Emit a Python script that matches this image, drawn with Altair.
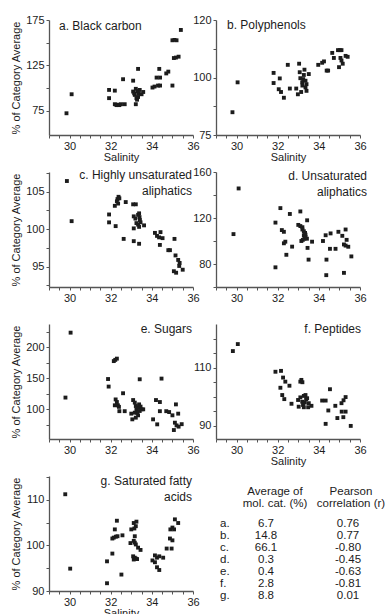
import altair as alt
import pandas as pd

FONT = "Liberation Sans"
INK = "#1c1c1c"
AXIS_GREY = "#555555"

# ---- panel data: salinity vs. % of category average ----
a_sal = [29.85, 30.1, 31.92, 31.92, 32.2, 32.2, 32.28, 32.35, 32.42, 32.5, 32.68, 32.6,
         33.09, 33.33, 33.09, 33.17, 33.22, 33.25, 33.28, 33.33, 33.36, 33.41, 33.5, 33.58,
         33.22, 33.14, 33.3, 34.03, 34.13, 34.3, 34.4, 34.23, 34.4, 34.36, 34.7, 34.8,
         35.0, 35.0, 35.1, 35.2, 35.07, 35.17, 35.3, 35.41]
a_val = [72, 93, 97.8, 88.7, 97, 82, 81, 81.5, 81, 82, 82, 109.6,
         108, 121, 96, 92.3, 99, 88.7, 87, 90, 94.2, 97.8, 93, 95.5,
         82, 94, 96.5, 100.4, 101.5, 102.6, 102.6, 111.4, 111.4, 121, 116, 118,
         102.6, 152.6, 153, 152.6, 133, 133.5, 134.5, 164]

b_sal = [29.8, 30.05, 31.8, 31.8, 32.1, 32.05, 32.16, 32.3, 32.49, 32.59, 32.9, 32.98,
         33.04, 33.07, 33.1, 33.14, 33.19, 33.24, 33.27, 33.3, 33.35, 33.35, 33.4, 33.4,
         33.51, 33.2, 33.97, 34.16, 34.25, 34.38, 34.45, 34.65, 34.73, 34.93, 35.02, 35.1,
         34.98, 35.05, 35.1, 35.16, 35.3, 35.4]
b_val = [84.9, 97.9, 102, 97.6, 99.6, 94.9, 93.7, 91.2, 105.5, 95.2, 95.2, 92.7,
         106, 102.3, 99.7, 93.7, 97.9, 99.3, 101.1, 103.4, 98.6, 95.7, 97.1, 94.2,
         101.5, 96.5, 105.5, 106.4, 107, 103, 103, 110.7, 108.5, 111.9, 111.9, 111.9,
         104.5, 108.5, 107.4, 106, 109.4, 109]

c_sal = [29.87, 30.1, 31.92, 31.92, 32.24, 32.2, 32.3, 32.33, 32.38, 32.42, 32.36, 32.63,
         32.73, 33.09, 33.22, 33.12, 33.2, 33.25, 33.33, 33.38, 33.4, 33.42, 33.33, 33.45,
         33.38, 33.62, 33.12, 33.12, 33.38, 34.15, 34.25, 34.35, 34.42, 34.52, 34.39, 34.8,
         34.88, 35.1, 35.15, 35.28, 35.35, 35.33, 35.07, 35.18, 35.5]
c_val = [106.4, 101.06, 101.95, 100.9, 100.4, 103.1, 103.7, 104.0, 104.3, 104.1, 103.4, 98.7,
         103.6, 103.3, 103.3, 101.7, 101.4, 100.8, 101.9, 102.1, 101.6, 101.2, 100.6, 100.9,
         100.3, 100.5, 100.1, 98.4, 98.05, 99.5, 99.1, 98.9, 99.6, 98.8, 97.9, 97.2,
         97.2, 98.7, 96.5, 95.9, 95.5, 95.1, 94.4, 94.2, 94.6]

d_sal = [29.85, 30.1, 31.89, 31.89, 32.13, 32.2, 32.3, 32.3, 32.37, 32.42, 32.59, 32.7,
         33.1, 33.0, 33.1, 33.2, 33.2, 33.27, 33.33, 33.27, 33.35, 33.15, 33.22, 33.3,
         33.35, 33.42, 33.43, 33.45, 33.5, 33.67, 34.2, 34.37, 34.33, 34.57, 34.36, 34.54,
         34.81, 34.95, 35.14, 35.22, 35.3, 35.43, 35.3, 35.22, 35.35, 35.58]
d_val = [106, 145.7, 116, 77.1, 128.6, 109.5, 108, 98, 99.4, 88, 123.5, 95.1,
         125.7, 114, 113, 112, 110, 108.5, 107, 105, 105.5, 100, 101, 102,
         103.5, 102, 118, 94, 83.8, 99.4, 100, 83.8, 105, 106.6, 70.3, 93.2,
         93.2, 108, 104.5, 97, 96, 95, 110, 72.3, 101, 86.6]

e_sal = [29.8, 30.05, 31.87, 31.9, 32.15, 32.22, 32.3, 32.24, 32.2, 32.35, 32.3, 32.4,
         32.42, 32.6, 32.68, 33.0, 33.05, 33.09, 33.17, 33.22, 33.25, 33.33, 33.38, 33.41,
         33.45, 33.5, 33.33, 33.22, 33.58, 33.28, 33.17, 33.41, 34.06, 34.26, 34.2, 34.39,
         34.39, 34.47, 34.7, 34.84, 35.0, 35.07, 35.17, 35.28, 35.12, 35.2, 35.3, 35.45]
e_val = [119, 224, 149, 136.8, 178, 180, 182, 116, 106.5, 106.5, 111.8, 104,
         97, 126, 97, 93, 83.8, 115, 110.8, 105.4, 100, 102.7, 108, 97.3,
         104.4, 100, 90.3, 86.5, 100, 94.6, 94.6, 148.6, 83.8, 75.7, 115, 111.8,
         97, 149.7, 97, 95.6, 90.3, 66.5, 108, 93, 78.4, 74, 72, 76]

f_sal = [29.82, 30.06, 31.89, 32.16, 32.13, 32.26, 32.37, 32.22, 32.32, 32.57, 32.67, 33.1,
         33.15, 33.2, 32.99, 33.1, 33.19, 33.23, 33.27, 33.35, 33.38, 33.43, 33.32, 33.48,
         33.27, 33.51, 33.64, 33.02, 34.16, 34.33, 34.33, 34.46, 34.54, 34.8, 34.9, 35.11,
         35.1, 35.2, 35.3, 35.19, 35.3, 35.55]
f_val = [115.7, 118.1, 108.6, 108.9, 103.1, 106.6, 105.2, 100.6, 99.2, 103.8, 97.6, 105.2,
         105.8, 105, 98.9, 99.8, 98.3, 97.2, 100.3, 100.6, 99.2, 99.5, 98, 96.4,
         96.4, 97.8, 96.9, 96.6, 98.7, 98.7, 90.7, 95.3, 102.6, 96.9, 92.7, 94.9,
         97.8, 98.8, 99.9, 93, 94.9, 90]

g_sal = [29.79, 30.03, 31.82, 31.82, 32.08, 32.08, 32.15, 32.25, 32.33, 32.2, 32.3, 32.57,
         32.52, 33.0, 32.96, 33.12, 33.25, 33.22, 33.15, 33.12, 33.17, 33.22, 33.17, 33.33,
         33.45, 33.09, 33.17, 33.22, 33.12, 33.28, 34.15, 34.25, 34.36, 34.03, 34.15, 34.25,
         34.36, 34.55, 34.72, 34.96, 34.88, 35.0, 34.9, 35.0, 35.08, 35.12, 35.28]
g_val = [111.2, 94.9, 96.5, 91.7, 98.2, 101.5, 101.7, 101.9, 102, 103.5, 105.4, 102.2,
         93.6, 103.5, 100.5, 104.9, 105.2, 104.2, 103.7, 101, 100.6, 100.2, 102, 99.5,
         99, 97.6, 97.3, 97.1, 96.9, 97.0, 97.8, 97.3, 97.6, 96.7, 96.3, 95.2,
         94.6, 97.3, 99.3, 99.3, 101.5, 101.1, 103.5, 103.9, 103.5, 105.7, 104.9]

# ---- summary table ----
table_letters = ["a.", "b.", "c.", "d.", "e.", "f.", "g."]
table_avg_pct = [6.7, 14.8, 66.1, 0.3, 0.4, 2.8, 8.8]
table_pearson_r = [0.76, 0.77, -0.80, -0.45, -0.63, -0.81, 0.01]

W, H = 144, 115
X_TICKS = [29 + 0.5 * i for i in range(15)]
Y_TITLE = "% of Category Average"
TABLE_FS = 11.5


def label_expr(labels):
    expr = "''"
    for v, t in labels.items():
        expr = f"datum.value == {v} ? '{t}' : ({expr})"
    return expr


def panel(sal, val, ydom, yticks, ylabels, text, align, tx, ty, ytitle, xtitle, xtp=0):
    df = pd.DataFrame({"salinity": sal, "value": val})
    pts = alt.Chart(df).mark_square(size=15, color=INK, opacity=1).encode(
        x=alt.X("salinity:Q", title=xtitle,
                scale=alt.Scale(domain=[29, 36], nice=False, zero=False),
                axis=alt.Axis(values=X_TICKS,
                              labelExpr=label_expr({30: "30", 32: "32", 34: "34", 36: "36"}),
                              titlePadding=xtp)),
        y=alt.Y("value:Q", title=ytitle,
                scale=alt.Scale(domain=ydom, nice=False, zero=False),
                axis=alt.Axis(values=yticks, labelExpr=label_expr(ylabels))),
    )
    lab = alt.Chart(pd.DataFrame({"label": [text]})).mark_text(
        align=align, baseline="alphabetic", fontSize=12, font=FONT, color=INK,
        lineBreak="\n", lineHeight=15.5,
    ).encode(x=alt.value(tx), y=alt.value(ty), text="label:N")
    return alt.layer(pts, lab).properties(width=W, height=H)


pa = panel(a_sal, a_val, [48, 175], [75, 100, 125, 150, 175],
           {75: "75", 125: "125", 175: "175"},
           "a. Black carbon", "left", 10, 10, Y_TITLE, "Salinity")
pb = panel(b_sal, b_val, [75, 125], [75, 87.5, 100, 112.5, 125],
           {75: "75", 100: "100", 125: "120"},
           "b. Polyphenols", "left", 11, 9, "", "Salinity")
pc = panel(c_sal, c_val, [92.3, 107.6], [92.5, 95, 97.5, 100, 102.5, 105, 107.5],
           {95: "95", 100: "100", 105: "105"},
           "c. Highly unsaturated\naliphatics", "right", 143, 7, Y_TITLE, "")
pd_ = panel(d_sal, d_val, [60, 160], [60, 80, 100, 120, 140, 160],
            {80: "80", 120: "120", 160: "160"},
            "d. Unsaturated\naliphatics", "right", 151, 8, "", "")
pe = panel(e_sal, e_val, [52, 238], [75, 100, 125, 150, 175, 200, 225],
           {100: "100", 150: "150", 200: "200"},
           "e. Sugars", "right", 143, 9, Y_TITLE, "")
pf = panel(f_sal, f_val, [85.5, 125], [90, 95, 100, 105, 110, 115, 120],
           {90: "90", 110: "110"},
           "f. Peptides", "right", 145, 9, "", "Salinity")
pg = panel(g_sal, g_val, [90, 115.2], [90, 95, 100, 105, 110, 115],
           {90: "90", 100: "100", 110: "110"},
           "g. Saturated fatty\nacids", "right", 143, 9, Y_TITLE, "Salinity", xtp=0)

tdf = pd.DataFrame({
    "row": list(range(len(table_letters))),
    "letter": table_letters,
    "avg": [f"{v:.1f}" for v in table_avg_pct],
    "r": [f"{v:.2f}" for v in table_pearson_r],
})
row_y = alt.Y("row:Q", axis=None, scale=alt.Scale(domain=[0, 6], range=[50.7, 123.3]))
tbase = alt.Chart(tdf)
t_letter = tbase.mark_text(align="left", baseline="alphabetic", fontSize=TABLE_FS, font=FONT, color=INK).encode(
    x=alt.value(4), y=row_y, text="letter:N")
t_avg = tbase.mark_text(align="center", baseline="alphabetic", fontSize=TABLE_FS, font=FONT, color=INK).encode(
    x=alt.value(50), y=row_y, text="avg:N")
t_r = tbase.mark_text(align="center", baseline="alphabetic", fontSize=TABLE_FS, font=FONT, color=INK).encode(
    x=alt.value(132), y=row_y, text="r:N")
hdf = pd.DataFrame({"h": ["Average of\nmol. cat. (%)", "Pearson\ncorrelation (r)"], "hx": [59, 135]})
t_head = alt.Chart(hdf).mark_text(align="center", baseline="alphabetic", fontSize=TABLE_FS, font=FONT,
                                  color=INK, lineBreak="\n", lineHeight=12).encode(
    x=alt.X("hx:Q", axis=None, scale=alt.Scale(domain=[0, W], range=[0, W])),
    y=alt.value(19), text="h:N")
ptable = alt.layer(t_head, t_letter, t_avg, t_r).properties(width=W, height=H)

chart = alt.concat(pa, pb, pc, pd_, pe, pf, pg, ptable, columns=2,
                   spacing={"row": 37, "column": 23}, bounds="flush").properties(
    padding={"left": 10, "top": 14, "right": 0, "bottom": 0},
    background="white",
).configure_view(strokeWidth=0).configure_axis(
    grid=False,
    domainColor=AXIS_GREY, domainWidth=1.3,
    tickColor=AXIS_GREY, tickSize=3, tickWidth=1,
    labelFont=FONT, labelFontSize=11, labelColor=INK, labelPadding=2,
    labelOverlap=False, labelFlush=False,
    titleFont=FONT, titleFontSize=11, titleFontWeight="normal", titleColor=INK,
    titlePadding=4,
)

chart.save("out.html", embed_options={"renderer": "svg", "actions": False})
